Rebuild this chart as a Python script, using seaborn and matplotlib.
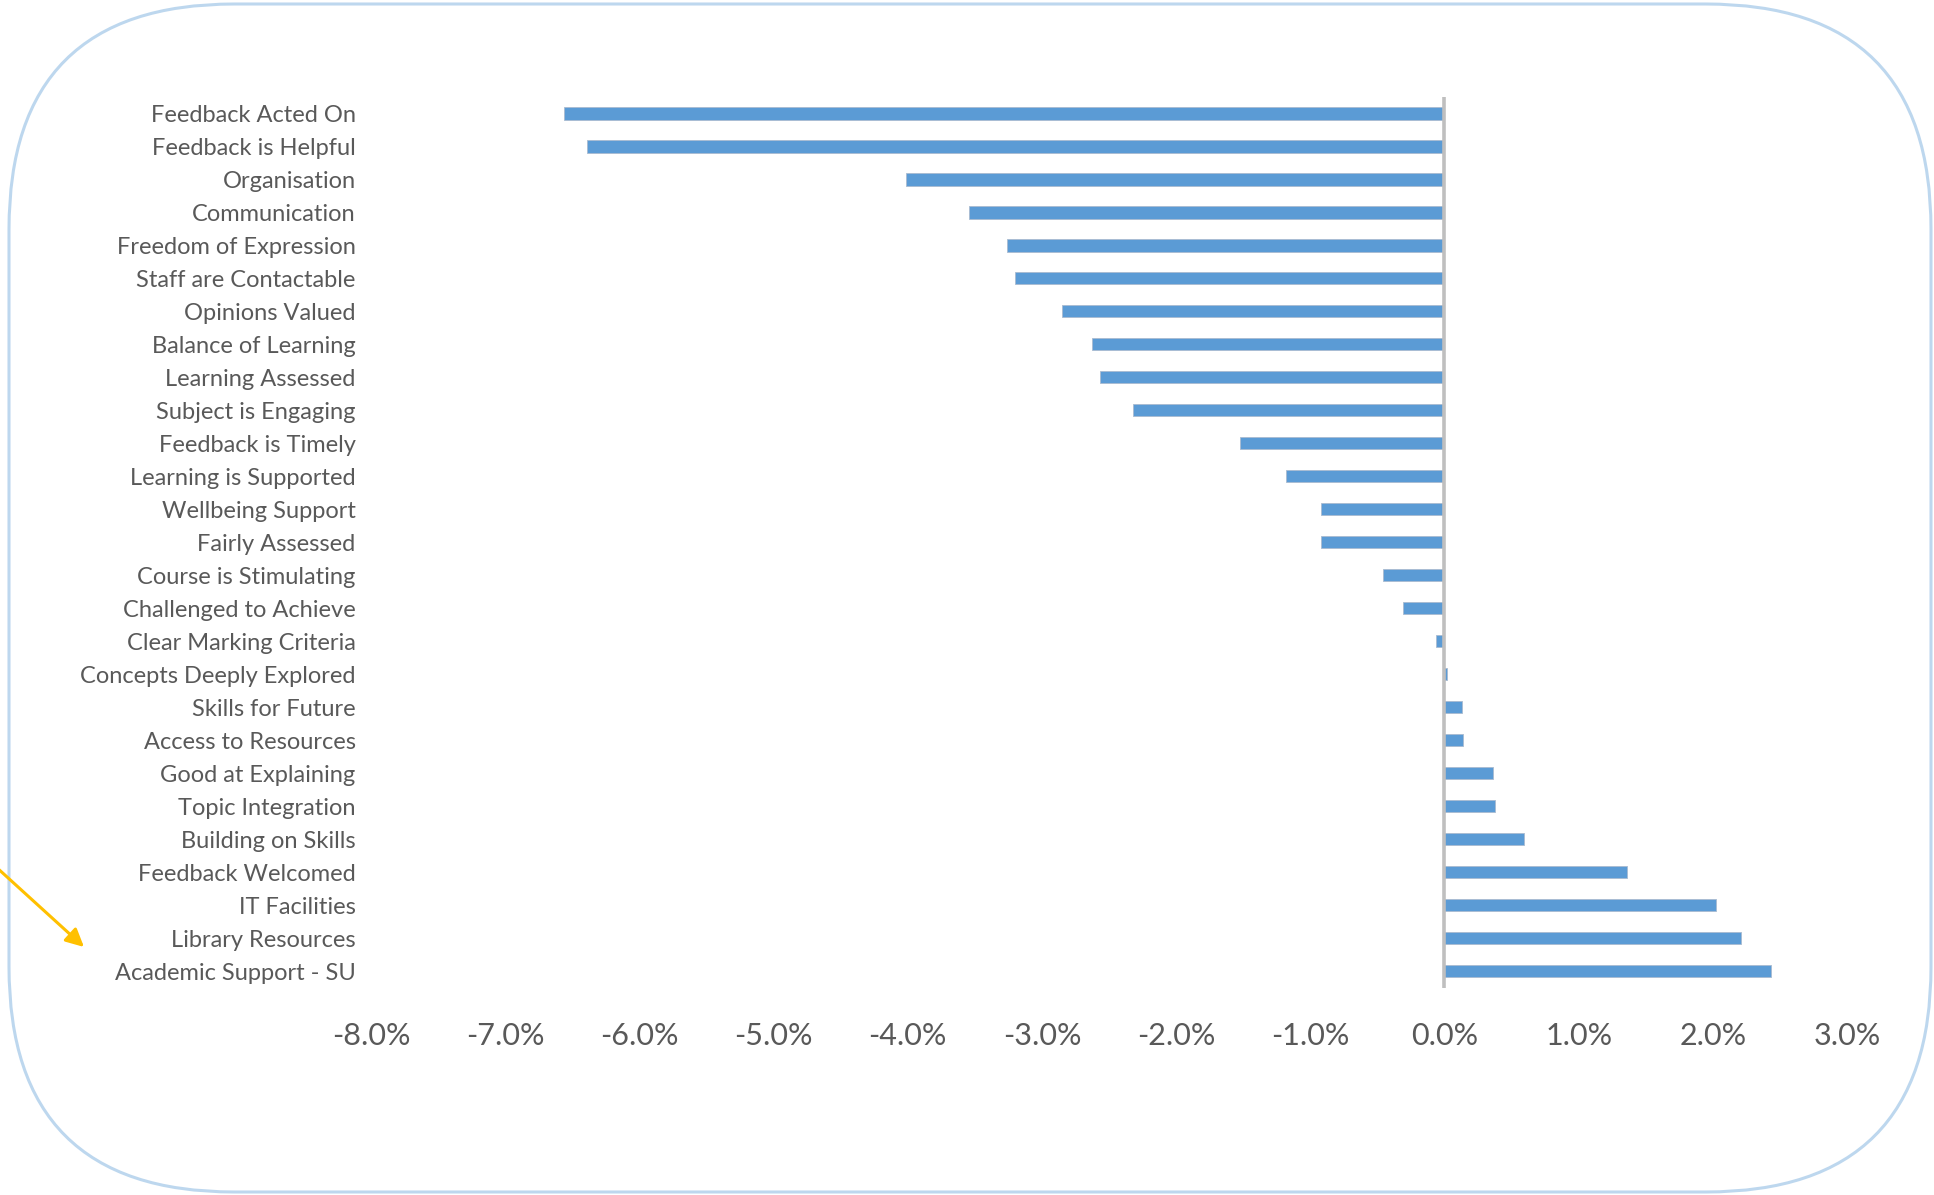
import matplotlib
matplotlib.use("Agg")
import matplotlib.pyplot as plt
import seaborn as sns
import pandas as pd
from matplotlib.patches import FancyBboxPatch
from matplotlib.ticker import FuncFormatter

categories = [
    "Feedback Acted On", "Feedback is Helpful", "Organisation", "Communication",
    "Freedom of Expression", "Staff are Contactable", "Opinions Valued",
    "Balance of Learning", "Learning Assessed", "Subject is Engaging",
    "Feedback is Timely", "Learning is Supported", "Wellbeing Support",
    "Fairly Assessed", "Course is Stimulating", "Challenged to Achieve",
    "Clear Marking Criteria", "Concepts Deeply Explored", "Skills for Future",
    "Access to Resources", "Good at Explaining", "Topic Integration",
    "Building on Skills", "Feedback Welcomed", "IT Facilities",
    "Library Resources", "Academic Support - SU",
]
values = [
    -6.56, -6.39, -4.01, -3.54, -3.26, -3.20, -2.85, -2.63, -2.57, -2.32,
    -1.52, -1.18, -0.92, -0.92, -0.46, -0.31, -0.06, 0.02, 0.13, 0.14,
    0.36, 0.38, 0.59, 1.36, 2.02, 2.21, 2.43,
]
xticks = [-8, -7, -6, -5, -4, -3, -2, -1, 0, 1, 2, 3]

sns.set_theme(style="white")
plt.rcParams["font.family"] = ["Lato", "DejaVu Sans"]

W, H = 1934, 1195
fig = plt.figure(figsize=(W / 100, H / 100), dpi=100)

# background frame axes in pixel coordinates
bg = fig.add_axes([0, 0, 1, 1], zorder=0)
bg.set_xlim(0, W)
bg.set_ylim(H, 0)
bg.axis("off")
frame = FancyBboxPatch((9, 4), W - 12, H - 7,
                       boxstyle="round,pad=0,rounding_size=225",
                       fc="none", ec="#BDD7EE", lw=2.2)
bg.add_patch(frame)
bg.annotate("", xy=(84, 947), xytext=(-5, 866),
            arrowprops=dict(arrowstyle="-|>,head_length=0.9,head_width=0.45",
                            color="#FFC000", lw=2.2, shrinkA=0, shrinkB=0))

ax = fig.add_axes([371 / W, 1 - 987.5 / H, (1847 - 371) / W, (987.5 - 97) / H], zorder=1)
ax.patch.set_alpha(0)
df = pd.DataFrame({"category": categories, "value": values})
sns.barplot(data=df, y="category", x="value", orient="h", color="#5B9BD5",
            saturation=1, width=0.37, edgecolor="#A9BBD0", linewidth=0.6, ax=ax)
ax.axvline(0, color="#BFBFBF", lw=2.6, zorder=3)
ax.set_xlim(-8, 3)
ax.set_ylim(26.5, -0.5)
ax.set_xticks(xticks)
ax.xaxis.set_major_formatter(FuncFormatter(lambda v, p: f"{v:.1f}%"))
ax.set_xlabel("")
ax.set_ylabel("")
for s in ax.spines.values():
    s.set_visible(False)
ax.tick_params(axis="x", length=0, pad=25, labelsize=22, labelcolor="#595959")
ax.tick_params(axis="y", length=0, pad=11, labelsize=17, labelcolor="#595959")

fig.savefig("out.png", dpi=100, facecolor="white")
